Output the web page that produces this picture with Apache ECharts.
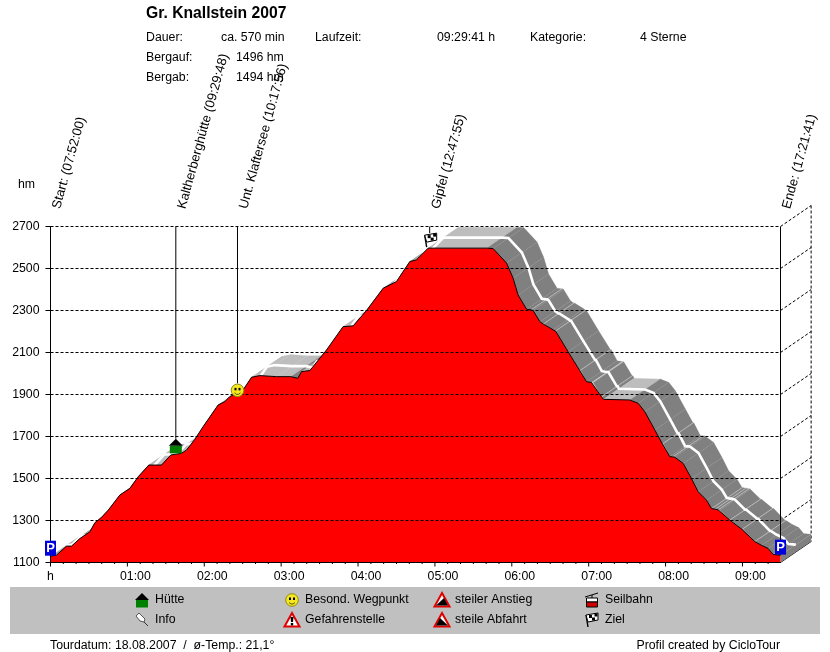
<!DOCTYPE html>
<html><head><meta charset="utf-8">
<style>html,body{margin:0;padding:0;background:#fff}#c{width:830px;height:652px}</style>
<script src="https://cdn.jsdelivr.net/npm/echarts@6/dist/echarts.min.js"></script>
</head><body><div id="c"></div>
<script>
// ---- data ----
var times = [0,4.7,12.5,16.4,22.9,30.7,34.6,39.8,45,54.1,61.9,68.4,76.7,86.6,93.9,102.2,106.1,112.6,119.1,130.8,136,139.9,145.6,150.3,156.9,163.3,176.4,187.5,193,195.9,202.4,215.4,228.3,236.2,246.6,259.6,270,280.4,285.6,294.7,340.3,345.4,355.9,361,364.9,371.5,375,375.7,376.6,381.9,384.4,385.1,392.3,393.6,394.3,403.9,413,413.7,418.3,422.2,422.9,423.5,430,430.7,431.6,452,458.6,463.8,471.6,477.5,478.2,483.3,485.5,486.2,487.2,493.7,500.2,505.4,511.9,515.8,516.5,518.5,519.2,521,521.7,522.3,530.1,530.8,539.6,540.3,549.5,550.2,554.8,560,563.9,569.68];
var heights = [1130,1135,1178,1178,1214,1246,1289,1315,1349,1421,1453,1508,1564,1564,1612,1620,1635,1686,1747,1850,1866,1890,1906,1922,1982,1990,1985,1985,1977,2009,2014,2112,2223,2227,2300,2406,2438,2533,2541,2597,2597,2595,2526,2454,2374,2306,2303,2303,2300,2247,2236,2236,2208,2201,2201,2104,2014,2014,1961,1957,1957,1956,1889,1889,1877,1874,1858,1818,1731,1665,1665,1604,1603,1603,1601,1572,1500,1437,1397,1357,1357,1354,1354,1351,1351,1349,1302,1302,1258,1258,1200,1200,1182,1167,1138,1135];
var yTicks = [1100,1300,1500,1700,1900,2100,2300,2500,2700];
var hourTicks = [0,60,120,180,240,300,360,420,480,540];
var hourLabels = ['h','01:00','02:00','03:00','04:00','05:00','06:00','07:00','08:00','09:00'];
var minorMinutes = [10,20,30,40,50,70,80,90,100,110,130,140,150,160,170,190,200,210,220,230,250,260,270,280,290,310,320,330,340,350,370,380,390,400,410,430,440,450,460,470,490,500,510,520,530,550,560];
var wpNames = ['Start: (07:52:00)','Kaltherberghütte (09:29:48)','Unt. Klaftersee (10:17:56)','Gipfel (12:47:55)','Ende: (17:21:41)'];
var wpTimes = [0,97.8,145.93,295.9,569.68];
var wpHeights = [1130,1620,1915,2597,1135];
var wpIcons = ['P','hut','smile','flag','P'];
var headerRows = [
  ['Dauer:',146,38],['ca. 570 min',221,38],['Laufzeit:',315,38],['09:29:41 h',437,38],['Kategorie:',530,38],['4 Sterne',640,38],
  ['Bergauf:',146,58],['1496 hm',236,58],['Bergab:',146,78],['1494 hm',236,78]
];
var legendItems = [
  ['hut','Hütte',142,600],['info','Info',142,620],
  ['smile','Besond. Wegpunkt',292,600],['warn','Gefahrenstelle',292,620],
  ['up','steiler Anstieg',442,600],['down','steile Abfahrt',442,620],
  ['cable','Seilbahn',592,600],['flag','Ziel',592,620]
];
var depthT = 23.9, depthH = 100;   // extrusion of the 3D band, in axis units
var FONT = '"Liberation Sans", Arial, sans-serif';
var TXT = '12.3px '+FONT;

function iconParts(kind){
  var B='#000';
  if(kind==='P') return [
    {type:'rect',shape:{x:-5.5,y:-7.5,width:11,height:15},style:{fill:'#0000dc'}},
    {type:'text',x:0,y:0,style:{text:'P',fill:'#fff',font:'bold 13px '+FONT,align:'center',verticalAlign:'middle'}}];
  if(kind==='hut') return [
    {type:'rect',shape:{x:-6,y:0,width:12,height:7.5},style:{fill:'#008000'}},
    {type:'polygon',shape:{points:[[-7,0],[0,-7],[7,0]]},style:{fill:B}}];
  if(kind==='smile') return [
    {type:'circle',shape:{cx:0,cy:0,r:6.3},style:{fill:'#f6e81e',stroke:'#8f8a10',lineWidth:1}},
    {type:'rect',shape:{x:-3,y:-2.5,width:2,height:2.5},style:{fill:B}},
    {type:'rect',shape:{x:1,y:-2.5,width:2,height:2.5},style:{fill:B}},
    {type:'polyline',shape:{points:[[-3,2.5],[-1,4],[1,4],[3,2.5]]},style:{stroke:'#5c5600',fill:null,lineWidth:1}}];
  if(kind==='flag') return [
    {type:'line',shape:{x1:-4,y1:7,x2:-6,y2:-5},style:{stroke:B,lineWidth:1.4}},
    {type:'polygon',shape:{points:[[-6,-5],[6,-7],[6,0],[-4,2]]},style:{fill:'#fff',stroke:B,lineWidth:1}},
    {type:'rect',shape:{x:-3,y:-5,width:3,height:3},style:{fill:B}},
    {type:'rect',shape:{x:2.5,y:-6.5,width:3,height:3},style:{fill:B}},
    {type:'rect',shape:{x:0,y:-2.5,width:3,height:3},style:{fill:B}}];
  if(kind==='info') return [
    {type:'line',shape:{x1:1,y1:1,x2:6,y2:6},style:{stroke:'#333',lineWidth:1}},
    {type:'polygon',shape:{points:[[-6,-4],[-3,-7],[3,-1],[2,2],[-2,1]]},style:{fill:'#fff',stroke:'#555',lineWidth:1}}];
  if(kind==='warn'||kind==='up'||kind==='down'){
    var p=[{type:'polygon',shape:{points:[[0,-7],[7.5,6.5],[-7.5,6.5]]},style:{fill:'#fff',stroke:'#e00000',lineWidth:2}}];
    if(kind==='warn') p.push({type:'polygon',shape:{points:[[-1.5,-3],[1.5,-3],[1,2],[-1,2]]},style:{fill:B}},{type:'rect',shape:{x:-1.2,y:3,width:2.4,height:2.4},style:{fill:B}});
    if(kind==='up') p.push({type:'polygon',shape:{points:[[-6,5.5],[2,-2],[6,5.5]]},style:{fill:B}});
    if(kind==='down') p.push({type:'polygon',shape:{points:[[-6,5.5],[-2,-2],[6,5.5]]},style:{fill:B}});
    return p;
  }
  if(kind==='cable') return [
    {type:'line',shape:{x1:-7,y1:-3,x2:6,y2:-7},style:{stroke:B,lineWidth:1}},
    {type:'line',shape:{x1:0,y1:-5,x2:0,y2:-2},style:{stroke:B,lineWidth:1}},
    {type:'rect',shape:{x:-5.5,y:-2,width:11,height:4},style:{fill:'#fff',stroke:B,lineWidth:1}},
    {type:'rect',shape:{x:-5.5,y:2,width:11,height:5},style:{fill:'#d00000',stroke:B,lineWidth:1}}];
  return [];
}

var chart = echarts.init(document.getElementById('c'),null,{renderer:'canvas'});
var segs = times.slice(0,-1).map(function(t,i){return [t,heights[i],times[i+1],heights[i+1]];});
var black={stroke:'#000',lineWidth:1};
var dashed={stroke:'#000',lineWidth:1,lineDash:[3,2]};

var graphics = [
  {type:'rect',z:0,shape:{x:10,y:587,width:810,height:47},style:{fill:'#c0c0c0'}},
  {type:'text',x:146,y:13.5,style:{text:'Gr. Knallstein 2007',fill:'#000',font:'bold 15.7px '+FONT,verticalAlign:'middle'}},
  {type:'text',x:18,y:185,style:{text:'hm',fill:'#000',font:TXT,verticalAlign:'middle'}},
  {type:'text',x:50,y:646,style:{text:'Tourdatum: 18.08.2007  /  ø-Temp.: 21,1°',fill:'#000',font:TXT,verticalAlign:'middle'}},
  {type:'text',x:780,y:646,style:{text:'Profil created by CicloTour',fill:'#000',font:TXT,align:'right',verticalAlign:'middle'}}
];
headerRows.forEach(function(r){graphics.push({type:'text',x:r[1],y:r[2],style:{text:r[0],fill:'#000',font:TXT,verticalAlign:'middle'}});});
legendItems.forEach(function(r){
  graphics.push({type:'group',x:r[2],y:r[3],children:iconParts(r[0])});
  graphics.push({type:'text',x:r[2]+13,y:r[3],style:{text:r[1],fill:'#000',font:TXT,verticalAlign:'middle'}});
});

chart.setOption({
  animation:false,
  backgroundColor:'#fff',
  textStyle:{fontFamily:FONT},
  grid:{left:50.5,right:49.5,top:226.5,bottom:89.5,containLabel:false},
  graphic:graphics,
  xAxis:{type:'value',min:0,max:569.68,z:4,
    axisLine:{show:true,onZero:false,lineStyle:{color:'#000',width:1}},
    axisTick:{show:false},splitLine:{show:false},
    axisLabel:{customValues:hourTicks,color:'#000',fontSize:12.3,margin:8,hideOverlap:false,
      formatter:function(v){var i=hourTicks.indexOf(v);return i===0?'{h|h}':'{t|'+hourLabels[i]+'}';},
      rich:{h:{fontSize:12.3,color:'#000',padding:[0,0,0,0]},t:{fontSize:12.3,color:'#000',padding:[0,0,0,16]}}}
  },
  yAxis:{type:'value',min:1100,max:2700,z:4,
    axisLine:{show:true,onZero:false,lineStyle:{color:'#000',width:1}},
    axisTick:{show:true,customValues:yTicks,length:5,lineStyle:{color:'#000'}},
    axisLabel:{customValues:yTicks,color:'#000',fontSize:12.3,margin:11,formatter:function(v){return String(v);}},
    splitLine:{show:true,lineStyle:{color:'#000',width:1,type:[3,2]}}
  },
  series:[
    {name:'depth grid',type:'custom',z:1,silent:true,data:yTicks.map(function(v){return [v];}),encode:{x:[],y:0},
     renderItem:function(p,api){
       var v=api.value(0),a=api.coord([569.68,v]),b=api.coord([569.68+depthT,v+depthH]);
       var kids=[{type:'line',shape:{x1:a[0],y1:a[1],x2:b[0],y2:b[1]},style:v===1100?black:dashed}];
       if(v===2700){var c=api.coord([569.68+depthT,1100+depthH]);
         kids.push({type:'line',shape:{x1:b[0],y1:b[1],x2:c[0],y2:c[1]},style:dashed});}
       return {type:'group',children:kids};
     }},
    {name:'band',type:'custom',z:2,silent:true,data:segs,encode:{x:[0,2],y:[1,3]},
     renderItem:function(p,api){
       var t0=api.value(0),h0=api.value(1),t1=api.value(2),h1=api.value(3);
       var a=api.coord([t0,h0]),b=api.coord([t1,h1]),c=api.coord([t1+depthT,h1+depthH]),d=api.coord([t0+depthT,h0+depthH]);
       var m=(b[1]-a[1])/(b[0]-a[0]),dt=t1-t0;
       var flat=Math.abs(m)<0.3&&(dt>=6||dt<1.2);
       var col=flat?'#bdbdbd':(m>0?'#808080':'#a6a6a6');
       return {type:'polygon',shape:{points:[a,b,c,d]},style:{fill:col,stroke:col,lineWidth:0.2}};
     }},
    {name:'end wall',type:'custom',z:2,silent:true,data:[[569.68,1135]],encode:{x:0,y:1},
     renderItem:function(p,api){
       var t=api.value(0),h=api.value(1);
       return {type:'polygon',shape:{points:[api.coord([t,1100]),api.coord([t+depthT,1100+depthH]),api.coord([t+depthT,h+depthH]),api.coord([t,h])]},style:{fill:'#808080'}};
     }},
    {name:'center line',type:'custom',z:2.5,silent:true,data:[[0,1130]],encode:{x:0,y:1},
     renderItem:function(p,api){
       var pts=times.map(function(t,i){return api.coord([t+depthT/2,heights[i]+depthH/2]);});
       return {type:'polyline',shape:{points:pts},style:{stroke:'#fff',fill:null,lineWidth:2.6}};
     }},
    {name:'profile',type:'line',z:3,symbol:'none',silent:true,clip:true,
     data:times.map(function(t,i){return [t,heights[i]];}),
     lineStyle:{color:'#000',width:1},areaStyle:{color:'#ff0000',opacity:1}},
    {name:'frame',type:'custom',z:5,silent:true,data:hourTicks.concat(minorMinutes).map(function(v){return [v];}),encode:{x:0,y:[]},
     renderItem:function(p,api){
       var v=api.value(0),a=api.coord([v,1100]),len=hourTicks.indexOf(v)>=0?4:1.5;
       return {type:'line',shape:{x1:a[0],y1:a[1],x2:a[0],y2:a[1]+len},style:black};
     }},
    {name:'waypoints',type:'custom',z:6,silent:true,
     data:wpTimes.map(function(t,i){return [t,wpHeights[i],i];}),encode:{x:0,y:1},
     renderItem:function(p,api){
       var t=api.value(0),h=api.value(1),i=api.value(2),pt=api.coord([t,h]),top=api.coord([t,2700]);
       var kind=wpIcons[i];
       var off={P:[0,-8],hut:[0,-7.5],smile:[0,-1],flag:[1,-8]}[kind];
       var ic=[pt[0]+off[0],pt[1]+off[1]];
       var kids=[{type:'line',shape:{x1:top[0],y1:top[1],x2:top[0],y2:kind==='P'?pt[1]:ic[1]-7},style:black}];
       kids.push({type:'group',x:ic[0],y:ic[1],children:iconParts(kind)});
       kids.push({type:'text',x:top[0]+6,y:top[1]-18,rotation:74.5*Math.PI/180,
         style:{text:wpNames[i],fill:'#000',font:'13.1px '+FONT,align:'left',verticalAlign:'middle'}});
       return {type:'group',children:kids};
     }}
  ]
});
</script></body></html>
